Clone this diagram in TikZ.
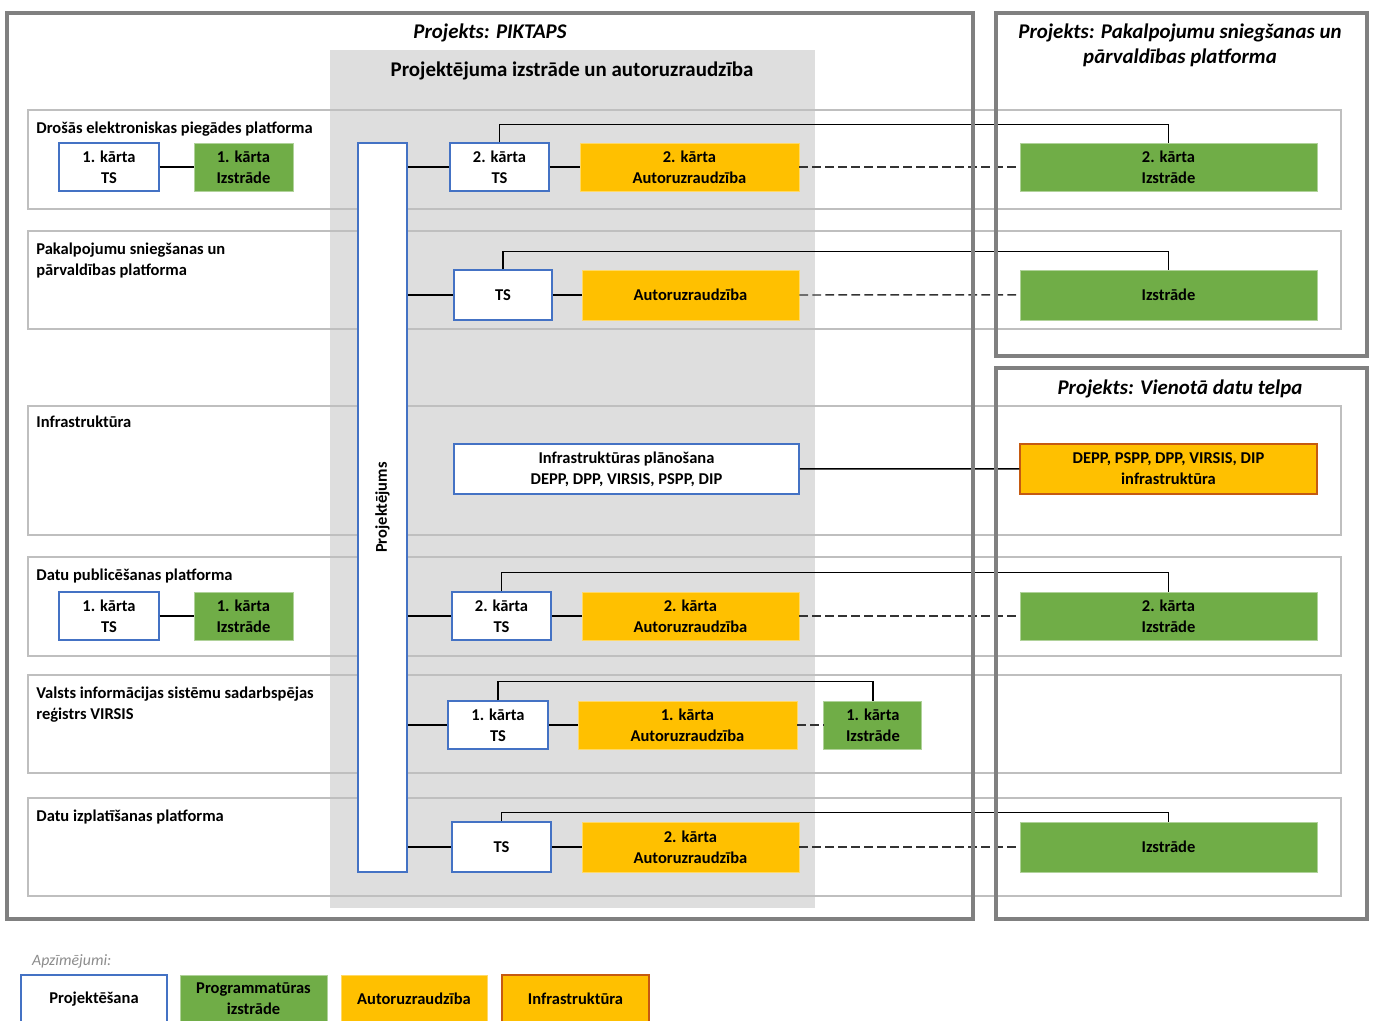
\documentclass[tikz,border=0pt]{standalone}
\usepackage{fontspec}
\setmainfont{Carlito}
\usepackage{tikz}
\usetikzlibrary{positioning}

\definecolor{projblue}{HTML}{4472C4}
\definecolor{izgreen}{HTML}{70AD47}
\definecolor{autorange}{HTML}{FFC000}
\definecolor{infrared}{HTML}{C55A11}
\definecolor{colgray}{HTML}{DEDEDE}
\definecolor{bandgray}{HTML}{BFBFBF}
\definecolor{framegray}{HTML}{808080}

\begin{document}
\begin{tikzpicture}[x=0.02cm,y=-0.02cm,on grid,
    boxsize/.style 2 args={minimum width=#1*0.02cm,minimum height=#2*0.02cm},
    link/.style={draw=black,line width=0.85pt},
    dlink/.style={draw=black!80,line width=0.85pt,dash pattern=on 5pt off 2.4pt}]
  \tikzstyle{every node}=[font=\fontsize{9.4}{11.9}\selectfont\bfseries,align=center,inner sep=1pt]
  \tikzstyle{proj}=[draw=projblue,fill=white,line width=0.85pt]
  \tikzstyle{izstr}=[draw=izgreen!55!white,fill=izgreen,line width=0.5pt]
  \tikzstyle{autor}=[draw=autorange!60!white,fill=autorange,line width=0.5pt]
  \tikzstyle{infra}=[draw=infrared,fill=autorange,line width=0.85pt]
  \tikzstyle{bandlabel}=[anchor=north west,align=left,inner sep=0pt]
  \tikzstyle{title}=[font=\fontsize{11.9}{14.2}\selectfont\bfseries\itshape]
  \tikzstyle{band}=[draw=bandgray,line width=0.9pt]
  \tikzstyle{frame}=[draw=framegray,line width=2.3pt]
  \useasboundingbox (0,0) rectangle (1373,1021);

  % background column and bands
  \fill[colgray] (330,50) rectangle (815,908);
  \draw[band] (28,110) rectangle (1341,209);
  \draw[band] (28,231) rectangle (1341,329);
  \draw[band] (28,406) rectangle (1341,535);
  \draw[band] (28,557) rectangle (1341,656);
  \draw[band] (28,675) rectangle (1341,773);
  \draw[band] (28,798) rectangle (1341,896);

  \node[bandlabel] (l dep) at (36,122) {Drošās elektroniskas piegādes platforma};
  \node[bandlabel] (l pak) at (36,243) {Pakalpojumu sniegšanas un\\pārvaldības platforma};
  \node[bandlabel] (l inf) at (36,416) {Infrastruktūra};
  \node[bandlabel] (l pub) at (36,569) {Datu publicēšanas platforma};
  \node[bandlabel] (l vir) at (36,687) {Valsts informācijas sistēmu sadarbspējas\\reģistrs VIRSIS};
  \node[bandlabel] (l izp) at (36,810) {Datu izplatīšanas platforma};

  % titles
  \node[title] (t piktaps) at (490,33) {Projekts: PIKTAPS};
  \node[font=\fontsize{11.9}{14}\selectfont\bfseries] (t izstr) at (572,71) {Projektējuma izstrāde un autoruzraudzība};
  \node[title] (t pak) at (1180,45) {Projekts: Pakalpojumu sniegšanas un\\pārvaldības platforma};
  \node[title] (t vdt) at (1180,389) {Projekts: Vienotā datu telpa};

  \node[proj,boxsize={49}{729},label={[rotate=90]center:Projektējums}] (projektejums) at (382.5,507.5) {};

  % Drošās elektroniskas piegādes platforma
  \node[proj,boxsize={100}{48}] (dep ts1) at (109,167) {1. kārta\\TS};
  \node[izstr,boxsize={99}{48}] (dep iz1) [right=2.69cm of dep ts1] {1. kārta\\Izstrāde};
  \node[proj,boxsize={99}{48}] (dep ts2) at (499.5,167) {2. kārta\\TS};
  \node[autor,boxsize={219}{48}] (dep aut2) [right=3.8cm of dep ts2] {2. kārta\\Autoruzraudzība};
  \node[izstr,boxsize={297}{48}] (dep iz2) at (1168.5,167) {2. kārta\\Izstrāde};

  % Pakalpojumu sniegšanas un pārvaldības platforma
  \node[proj,boxsize={98}{50}] (pak ts) at (503,295) {TS};
  \node[autor,boxsize={217}{50}] (pak aut) [right=3.75cm of pak ts] {Autoruzraudzība};
  \node[izstr,boxsize={297}{50}] (pak iz) [below=2.56cm of dep iz2] {Izstrāde};

  % Infrastruktura
  \node[proj,boxsize={345}{50}] (inf plan) at (626.5,469) {Infrastruktūras plānošana\\DEPP, DPP, VIRSIS, PSPP, DIP};
  \node[infra,boxsize={297}{50}] (inf dat) [below=3.48cm of pak iz] {DEPP, PSPP, DPP, VIRSIS, DIP\\infrastruktūra};

  % Datu publicesanas platforma
  \node[proj,boxsize={100}{48}] (pub ts1) at (109,616) {1. kārta\\TS};
  \node[izstr,boxsize={99}{48}] (pub iz1) [right=2.69cm of pub ts1] {1. kārta\\Izstrāde};
  \node[proj,boxsize={99}{48}] (pub ts2) at (501.5,616) {2. kārta\\TS};
  \node[autor,boxsize={217}{48}] (pub aut2) [right=3.78cm of pub ts2] {2. kārta\\Autoruzraudzība};
  \node[izstr,boxsize={297}{48}] (pub iz2) at (1168.5,616) {2. kārta\\Izstrāde};

  % VIRSIS
  \node[proj,boxsize={100}{48}] (vir ts) at (498,725) {1. kārta\\TS};
  \node[autor,boxsize={219}{48}] (vir aut) [right=3.79cm of vir ts] {1. kārta\\Autoruzraudzība};
  \node[izstr,boxsize={98}{48}] (vir iz) [right=3.71cm of vir aut] {1. kārta\\Izstrāde};

  % Datu izplatisanas platforma
  \node[proj,boxsize={99}{50}] (izp ts) at (501.5,847) {TS};
  \node[autor,boxsize={217}{50}] (izp aut) [right=3.78cm of izp ts] {2. kārta\\Autoruzraudzība};
  \node[izstr,boxsize={297}{50}] (izp iz) at (1168.5,847) {Izstrāde};

  \path[link]
    (dep ts1) edge (dep iz1)
    (projektejums.east |- dep ts2) edge (dep ts2)
    (dep ts2) edge (dep aut2)
    (dep aut2) edge[dlink] (dep iz2)
    (projektejums.east |- pak ts) edge (pak ts)
    (pak ts) edge (pak aut)
    (pak aut) edge[dlink] (pak iz)
    (inf plan) edge (inf dat)
    (pub ts1) edge (pub iz1)
    (projektejums.east |- pub ts2) edge (pub ts2)
    (pub ts2) edge (pub aut2)
    (pub aut2) edge[dlink] (pub iz2)
    (projektejums.east |- vir ts) edge (vir ts)
    (vir ts) edge (vir aut)
    (vir aut) edge[dlink] (vir iz)
    (projektejums.east |- izp ts) edge (izp ts)
    (izp ts) edge (izp aut)
    (izp aut) edge[dlink] (izp iz);
  \draw[link] (dep ts2.north) -- ++(0,-18) -| (dep iz2.north);
  \draw[link] (pak ts.north) -- ++(0,-18) -| (pak iz.north);
  \draw[link] (pub ts2.north) -- ++(0,-19) -| (pub iz2.north);
  \draw[link] (vir ts.north) -- ++(0,-19) -| (vir iz.north);
  \draw[link] (izp ts.north) -- ++(0,-9) -| (izp iz.north);

  % project frames
  \draw[frame] (7,13) rectangle (973,919);
  \draw[frame] (996,13) rectangle (1367,356);
  \draw[frame] (996,368) rectangle (1367,919);

  % legend
  \node[anchor=west,font=\fontsize{9}{11}\selectfont\itshape,text=black!45] (apz) at (30,961) {Apzīmējumi:};
  \node[proj,boxsize={146}{48}] (leg proj) at (94,999) {Projektēšana};
  \node[izstr,boxsize={147}{48}] (leg iz) at (253.5,999) {Programmatūras\\izstrāde};
  \node[autor,boxsize={146}{48}] (leg aut) at (414,999) {Autoruzraudzība};
  \node[infra,boxsize={147}{48}] (leg inf) at (575.5,999) {Infrastruktūra};
\end{tikzpicture}
\end{document}
